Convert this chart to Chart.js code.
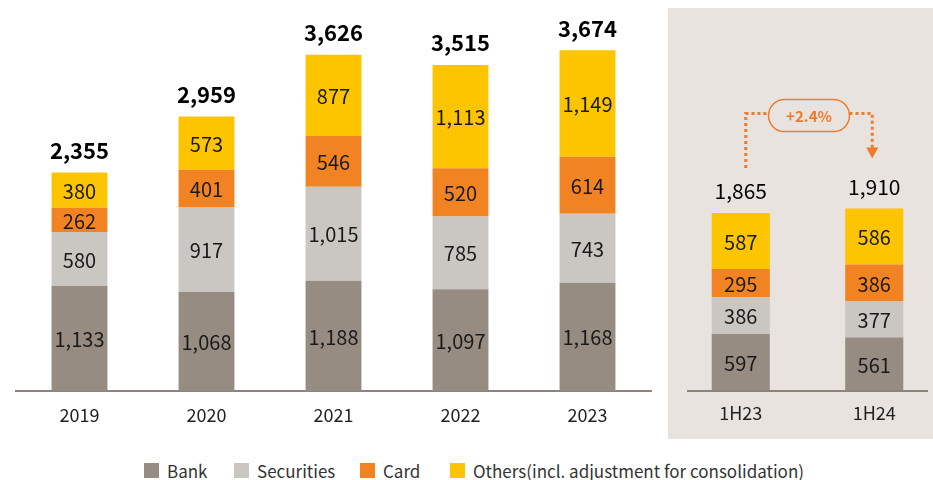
<!DOCTYPE html>
<html>
<head>
<meta charset="utf-8">
<script src="https://cdn.jsdelivr.net/npm/chart.js@4.4.1/dist/chart.umd.min.js"></script>
<style>
html, body { margin: 0; padding: 0; width: 933px; height: 480px; overflow: hidden; background: #fff;
  font-family: "Noto Sans CJK KR", "Noto Sans", sans-serif; }
#panel { position: absolute; left: 668px; top: 8px; width: 265px; height: 431px; background: #E8E3DF; }
#left { position: absolute; left: 0; top: 0; }
#right { position: absolute; left: 668px; top: 0; }
#legend { position: absolute; left: 0; top: 460px; width: 933px; height: 20px; }
.item { position: absolute; top: 0; height: 20px; display: flex; align-items: center; font-size: 17px; color: #333; white-space: nowrap; }
.sw { width: 15px; height: 15px; margin-right: 8px; }
</style>
</head>
<body>
<div id="panel"></div>
<canvas id="left" width="668" height="440"></canvas>
<canvas id="right" width="280" height="440"></canvas>
<div id="legend"></div>
<script>
// annual data
const years = ['2019', '2020', '2021', '2022', '2023'];
const bankYear = [1133, 1068, 1188, 1097, 1168];
const secYear = [580, 917, 1015, 785, 743];
const cardYear = [262, 401, 546, 520, 614];
const otherYear = [380, 573, 877, 1113, 1149];
const totalYear = [2355, 2959, 3626, 3515, 3674];

// half-year data
const halves = ['1H23', '1H24'];
const bankHalf = [597, 561];
const secHalf = [386, 377];
const cardHalf = [295, 386];
const otherHalf = [587, 586];
const totalHalf = [1865, 1910];
const growthText = '+2.4%';

const seriesNames = ['Bank', 'Securities', 'Card', 'Others(incl. adjustment for consolidation)'];
const seriesColors = ['#978C82', '#CAC6C1', '#F28322', '#FDC400'];
const legendX = [144, 234, 360, 450];

const FONT = '"Noto Sans CJK KR", "Noto Sans", sans-serif';
const AXIS = '#8C847B';
const ORANGE = '#EF7B2C';

const fmt = v => v.toLocaleString('en-US');

function makeSets(cols, pct) {
    return cols.map((d, i) => ({
        label: seriesNames[i],
        data: d,
        backgroundColor: seriesColors[i],
        borderWidth: 0,
        barPercentage: pct,
        categoryPercentage: 1
    }));
}

// segment values + totals on top
function labelPlugin(totals, totalFont) {
    return {
        id: 'labels',
        afterDatasetsDraw(chart) {
            const ctx = chart.ctx;
            ctx.save();
            ctx.textAlign = 'center';
            ctx.textBaseline = 'middle';
            ctx.fillStyle = '#1a1a1a';
            ctx.font = '20px ' + FONT;
            chart.data.datasets.forEach((ds, i) => {
                chart.getDatasetMeta(i).data.forEach((bar, j) => {
                    ctx.fillText(fmt(ds.data[j]), bar.x, (bar.y + bar.base) / 2 + 1);
                });
            });
            ctx.fillStyle = '#000';
            ctx.font = totalFont;
            const last = chart.data.datasets.length - 1;
            chart.getDatasetMeta(last).data.forEach((bar, j) => {
                ctx.fillText(fmt(totals[j]), bar.x, bar.y - 22);
            });
            ctx.restore();
        }
    };
}

function baseOptions(pad, maxY, showBorder, tickPad) {
    return {
        responsive: false,
        animation: false,
        layout: { padding: pad },
        plugins: { legend: { display: false }, tooltip: { enabled: false } },
        scales: {
            x: {
                stacked: true,
                grid: { display: false, drawTicks: false },
                border: { display: showBorder, color: AXIS, width: 2 },
                ticks: { color: '#222', font: { family: FONT, size: 18 }, padding: tickPad },
                afterFit: s => { s.height = 49; }
            },
            y: { stacked: true, display: false, min: 0, max: maxY }
        }
    };
}

function setupLeft() {
    return new Chart(document.getElementById('left'), {
        type: 'bar',
        data: { labels: years, datasets: makeSets([bankYear, secYear, cardYear, otherYear], 0.44) },
        options: baseOptions({ left: 16, right: 17, top: 20, bottom: 0 }, 4000, true, 13),
        plugins: [labelPlugin(totalYear, 'bold 22px ' + FONT)]
    });
}

const arrowPlugin = {
    id: 'growthArrow',
    afterDraw(chart) {
        const ctx = chart.ctx;
        const area = chart.chartArea;
        // baseline, a bit shorter than the chart area
        ctx.save();
        ctx.strokeStyle = AXIS;
        ctx.lineWidth = 2;
        ctx.beginPath();
        ctx.moveTo(19, area.bottom);
        ctx.lineTo(260, area.bottom);
        ctx.stroke();

        const top = chart.getDatasetMeta(chart.data.datasets.length - 1).data;
        const x1 = top[0].x + 5, x2 = top[1].x - 2;
        const yStart = top[0].y - 45;
        const yTip = top[1].y - 50;
        const yTop = Math.min(top[0].y, top[1].y) - 95;
        const cx = (x1 + x2) / 2, pw = 81, ph = 32;

        ctx.strokeStyle = ORANGE;
        ctx.lineWidth = 3;
        ctx.setLineDash([3, 3]);
        ctx.beginPath();
        ctx.moveTo(x1, yStart);
        ctx.lineTo(x1, yTop);
        ctx.lineTo(cx - pw / 2, yTop);
        ctx.moveTo(cx + pw / 2, yTop);
        ctx.lineTo(x2, yTop);
        ctx.lineTo(x2, yTip - 10);
        ctx.stroke();
        ctx.setLineDash([]);

        ctx.fillStyle = ORANGE;
        ctx.beginPath();
        ctx.moveTo(x2 - 6, yTip - 11);
        ctx.lineTo(x2 + 6, yTip - 11);
        ctx.lineTo(x2, yTip);
        ctx.closePath();
        ctx.fill();

        ctx.lineWidth = 1.5;
        ctx.fillStyle = '#E8E3DF';
        ctx.beginPath();
        ctx.roundRect(cx - pw / 2, yTop + 2 - ph / 2, pw, ph, ph / 2);
        ctx.fill();
        ctx.stroke();

        ctx.fillStyle = ORANGE;
        ctx.font = 'bold 15px ' + FONT;
        ctx.textAlign = 'center';
        ctx.textBaseline = 'middle';
        ctx.fillText(growthText, cx, yTop + 3);
        ctx.restore();
    }
};

function setupRight() {
    return new Chart(document.getElementById('right'), {
        type: 'bar',
        data: { labels: halves, datasets: makeSets([bankHalf, secHalf, cardHalf, otherHalf], 0.435) },
        options: baseOptions({ left: 6, right: 7, top: 20, bottom: 0 }, 3885, false, 11),
        plugins: [labelPlugin(totalHalf, '21px ' + FONT), arrowPlugin]
    });
}

function setupLegend() {
    const box = document.getElementById('legend');
    seriesNames.forEach((name, i) => {
        const it = document.createElement('div');
        it.className = 'item';
        it.style.left = legendX[i] + 'px';
        it.innerHTML = '<span class="sw" style="background:' + seriesColors[i] + '"></span><span>' + name + '</span>';
        box.appendChild(it);
    });
}

setupLeft();
setupRight();
setupLegend();
</script>
</body>
</html>
